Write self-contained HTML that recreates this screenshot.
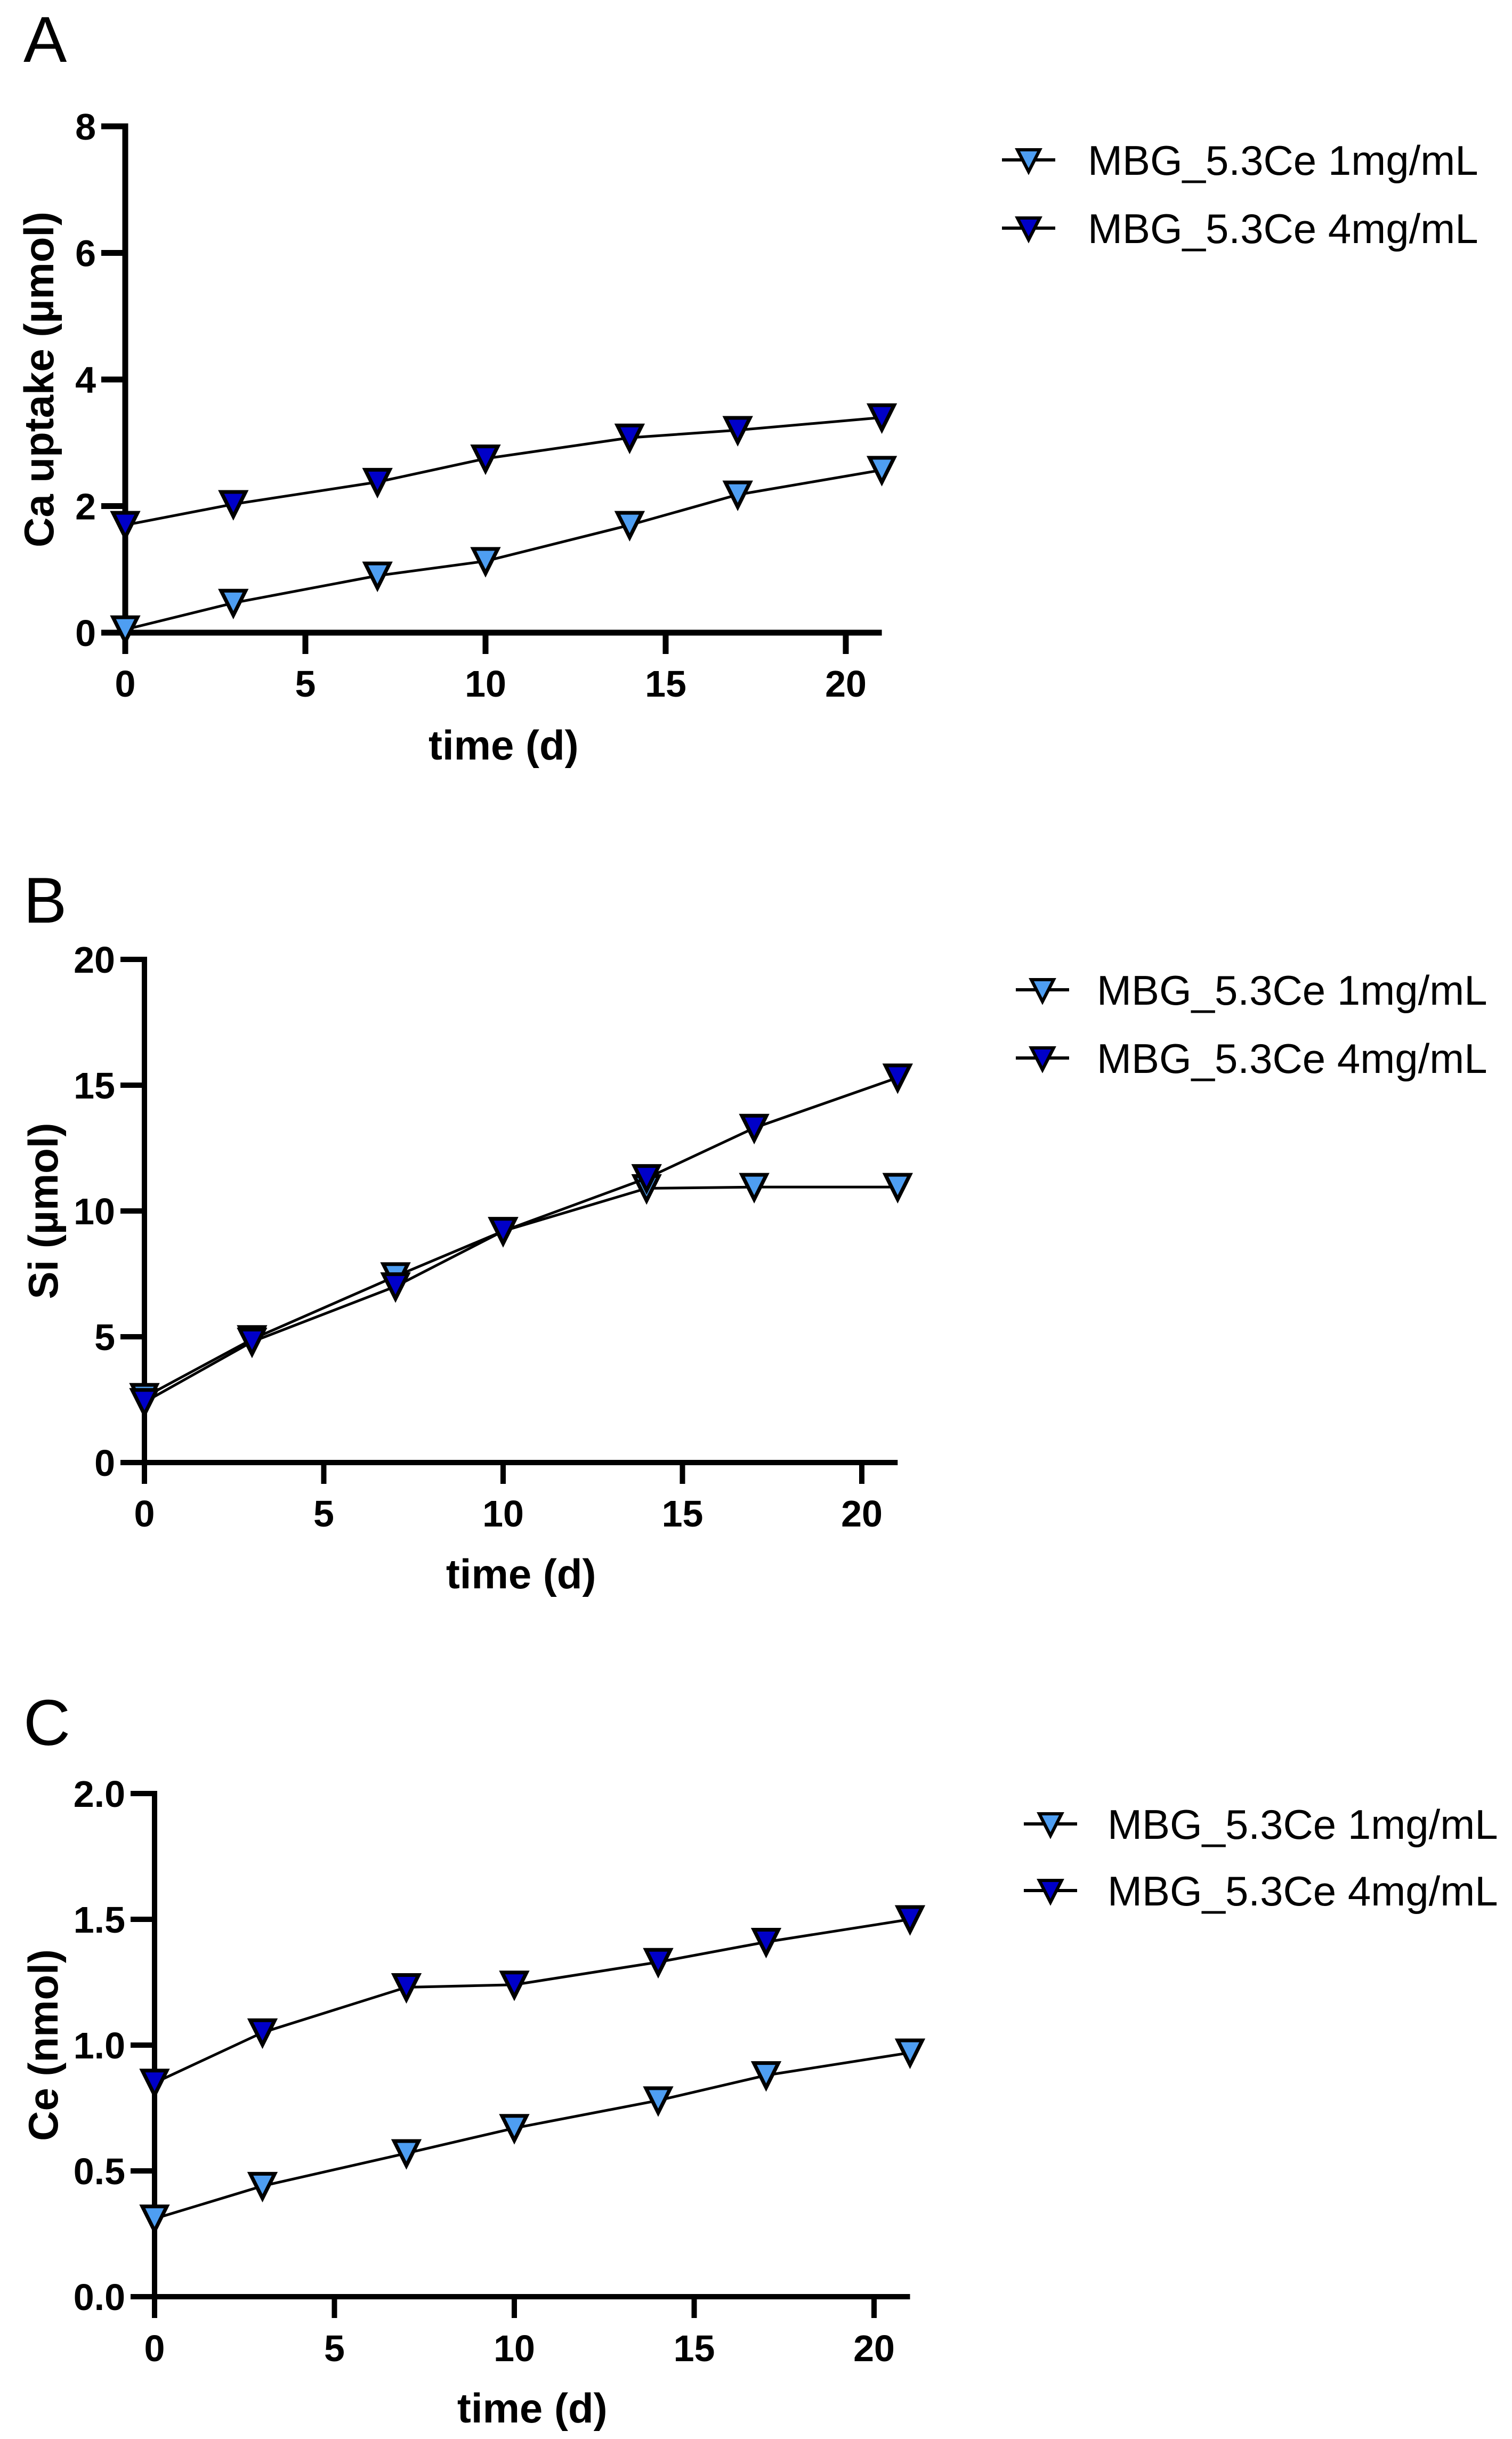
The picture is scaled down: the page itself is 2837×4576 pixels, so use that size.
<!DOCTYPE html>
<html><head><meta charset="utf-8"><style>
html,body{margin:0;padding:0;background:#fff;}
svg text{font-family:"Liberation Sans",Arial,sans-serif;}
</style></head><body>
<svg id="fig" width="2837" height="4571" viewBox="0 0 2837 4571" xmlns="http://www.w3.org/2000/svg"></svg>
<script>
const days = [0, 3, 7, 10, 14, 17, 21];
const xTicks = [0, 5, 10, 15, 20];
const caLow = [0.05, 0.47, 0.9, 1.13, 1.7, 2.18, 2.57];
const caHigh = [1.7, 2.03, 2.38, 2.75, 3.08, 3.2, 3.4];
const caTicks = [0, 2, 4, 6, 8];
const caTickLabels = ["0", "2", "4", "6", "8"];
const siLow = [2.6, 4.9, 7.4, 9.2, 10.9, 10.95, 10.95];
const siHigh = [2.4, 4.8, 7.0, 9.2, 11.3, 13.3, 15.3];
const siTicks = [0, 5, 10, 15, 20];
const siTickLabels = ["0", "5", "10", "15", "20"];
const ceLow = [0.31, 0.44, 0.57, 0.67, 0.78, 0.88, 0.97];
const ceHigh = [0.85, 1.05, 1.23, 1.24, 1.33, 1.41, 1.50];
const ceTicks = [0, 0.5, 1.0, 1.5, 2.0];
const ceTickLabels = ["0.0", "0.5", "1.0", "1.5", "2.0"];
const legendLabels = ["MBG_5.3Ce 1mg/mL", "MBG_5.3Ce 4mg/mL"];

const NS = "http://www.w3.org/2000/svg";
const svg = document.getElementById("fig");
const LIGHT = "#4e9ef2", DARK = "#0000c8";

function mk(tag, attrs, parent) {
  const e = document.createElementNS(NS, tag);
  for (const k in attrs) e.setAttribute(k, attrs[k]);
  (parent || svg).appendChild(e);
  return e;
}
function tri(g, x, y, fill) {
  return mk("polygon", {points: `${x-23},${y-23} ${x+23},${y-23} ${x},${y+23}`, fill: fill, stroke: "#000", "stroke-width": 7, "stroke-linejoin": "miter"}, g);
}

const panels = [
  {id:"a", letter:"A", ly:116, x0:235, y0:1187, yTop:237, yMax:8, dayW:67.6, ticks:caTicks, tl:caTickLabels, low:caLow, high:caHigh,
   ytitle:"Ca uptake (µmol)", ytx:72, xty:1425, xlab:1282, legX:1880, legY:[300,428], txtX:2041, aw:11},
  {id:"b", letter:"B", ly:1731, x0:271, y0:2744, yTop:1800, yMax:20, dayW:67.3, ticks:siTicks, tl:siTickLabels, low:siLow, high:siHigh,
   ytitle:"Si (µmol)", ytx:80, xty:2980, xlab:2839, legX:1906, legY:[1857,1985], txtX:2058, aw:10},
  {id:"c", letter:"C", ly:3274, x0:290, y0:4309, yTop:3365, yMax:2, dayW:67.5, ticks:ceTicks, tl:ceTickLabels, low:ceLow, high:ceHigh,
   ytitle:"Ce (nmol)", ytx:80, xty:4545, xlab:4405, legX:1921, legY:[3422,3547], txtX:2078, aw:10}
];

panels.forEach(P => {
  const g = mk("g", {});
  
  
  const sx = d => P.x0 + d * P.dayW;
  const sy = v => P.y0 - v / P.yMax * (P.y0 - P.yTop);
  const xEnd = sx(21);

  const letter = mk("text", {x:44, y:P.ly, "font-size":122}, g);
  letter.textContent = P.letter;
  
  

  const ya = mk("line", {x1:P.x0, y1:P.yTop - P.aw/2, x2:P.x0, y2:P.y0 + 40, stroke:"#000", "stroke-width":P.aw}, g);
  
  
  const xa = mk("line", {x1:P.x0 - 45, y1:P.y0, x2:xEnd, y2:P.y0, stroke:"#000", "stroke-width":P.aw}, g);
  
  

  P.ticks.forEach((t, i) => {
    const y = sy(t);
    const tk = mk("line", {x1:P.x0 - 45, y1:y, x2:P.x0, y2:y, stroke:"#000", "stroke-width":P.aw}, g);
    
    
    const lb = mk("text", {x:P.x0 - 55, y:y + 25, "font-size":70, "font-weight":"bold", "text-anchor":"end"}, g);
    lb.textContent = P.tl[i];
    
    
  });
  xTicks.forEach(t => {
    const x = sx(t);
    const tk = mk("line", {x1:x, y1:P.y0, x2:x, y2:P.y0 + 40, stroke:"#000", "stroke-width":P.aw}, g);
    
    
    const lb = mk("text", {x:x, y:P.xlab + 25, "font-size":70, "font-weight":"bold", "text-anchor":"middle"}, g);
    lb.textContent = String(t);
    
    
  });

  const xt = mk("text", {x:(P.x0 + xEnd)/2, y:P.xty, "font-size":78, "font-weight":"bold", "text-anchor":"middle"}, g);
  xt.textContent = "time (d)";
  
  
  const yc = (P.y0 + P.yTop) / 2;
  const yt = mk("text", {x:P.ytx, y:yc, "font-size":78, "font-weight":"bold", "text-anchor":"middle", transform:`rotate(-90 ${P.ytx} ${yc})`, dy:28}, g);
  yt.textContent = P.ytitle;
  
  

  [[P.low, LIGHT, "low"], [P.high, DARK, "high"]].forEach(([vals, col, nm]) => {
    const pts = days.map((d, i) => `${sx(d)},${sy(vals[i])}`).join(" ");
    const ln = mk("polyline", {points:pts, fill:"none", stroke:"#000", "stroke-width":5}, g);
    
    
    days.forEach((d, i) => {
      const m = tri(g, sx(d), sy(vals[i]), col);
      
      
    });
  });

  [LIGHT, DARK].forEach((col, i) => {
    const y = P.legY[i];
    const lg = mk("g", {}, g);
    
    
    mk("line", {x1:P.legX, y1:y, x2:P.legX + 100, y2:y, stroke:"#000", "stroke-width":6}, lg);
    mk("polygon", {points:`${P.legX+29},${y-19} ${P.legX+71},${y-19} ${P.legX+50},${y+22}`, fill:col, stroke:"#000", "stroke-width":6}, lg);
    const t = mk("text", {x:P.txtX, y:y + 28, "font-size":78}, lg);
    t.textContent = legendLabels[i];
  });
});
</script>
</body></html>
